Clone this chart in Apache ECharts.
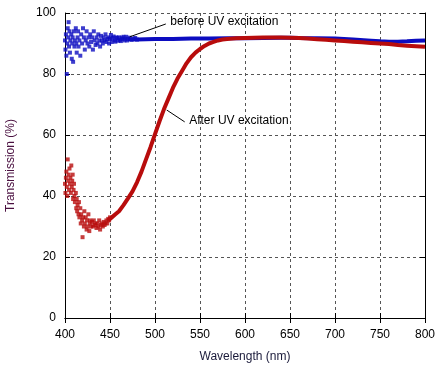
<!DOCTYPE html>
<html>
<head>
<meta charset="utf-8">
<script src="https://cdn.jsdelivr.net/npm/echarts@6/dist/echarts.min.js"></script>
<style>
html,body{margin:0;padding:0;background:#fff;}
#c{width:443px;height:374px;}
</style>
</head>
<body>
<div id="c"></div>
<script>
// X axis / Y axis ticks
const xTicks = [400, 450, 500, 550, 600, 650, 700, 750, 800];
const yTicks = [0, 20, 40, 60, 80, 100];

// Before UV excitation: noisy short-wavelength part (wavelength, %T)
const beforeNoisyWl = [400,400.5,401,401.5,402,402.5,403,403.5,404,404.5,405,405.5,406,407,407.5,408,408.5,409,410,410.5,411,412,412.5,413,414,414.5,415,416,417,418,419,420,421,422,423,424,425,426,427,428,429,430,431,432,433,434,435,436,437,438,439,440,441,442,443,444,445,446,447,448,449,450,451,452,453,454,455,456,457,458,459,460,461,462,463,464,465,466,467,468,469,470,472,474,476,478,480];
const beforeNoisyT  = [91,88,93,86,80,90,95,92,97,89,94,87,91,93,85,90,92,84,94,89,91,95,90,87,92,94,89,91,86,93,90,95,92,88,91,94,90,92,89,93,90.5,92,88,94,91,89.5,92,90,93,91,89,92.5,91,90,92,91,93,90.5,91.5,92,90,91.5,92.8,90.5,91.8,92.3,91,90.6,92,91.8,90.9,92,91.2,90.8,91.9,91.5,92.2,91,91.6,92.2,91,91.5,91.9,91.2,91.6,91.8,91.3];
// Before UV excitation: smooth part
const beforeWl = [470,480,490,500,520,540,560,580,600,620,640,650,660,680,700,720,740,750,760,770,780,790,800];
const beforeT  = [91.4,91.3,91.4,91.5,91.5,91.6,91.6,91.7,91.7,91.8,91.9,91.9,91.8,91.7,91.6,91.3,90.9,90.7,90.6,90.6,90.7,90.9,91.0];

// After UV excitation: noisy short-wavelength part
const afterNoisyWl = [400,400.5,401,401.5,402,402.5,403,403.5,404,404.5,405,405.5,406,406.5,407,407.5,408,408.5,409,409.5,410,410.5,411,412,412.5,413,413.5,414,415,415.5,416,417,417.5,418,419,419.5,420,421,421.5,422,423,424,424.5,425,426,427,427.5,428,429,430,431,432,433,434,435,436,437,438,439,440,441,442,443,444,445,446,447,448,449,450];
const afterNoisyT  = [44,41,46,48,43,40,52,45,47,42,49,44,46,41,50,43,45,47,39,42,44,40,38,41,36,39,35,37,34,38,33,36,31,34,32,26.5,33,30,35,31,33,29,32,30,34,28.5,31,32,30,31.5,30,32,30.5,31,29.5,31,30,32,29,30.5,31,30,31.5,30.5,31,32,31,32.5,32,33];
// After UV excitation: smooth part
const afterWl = [448,452,456,460,465,470,475,480,485,490,495,500,505,510,515,520,525,530,535,540,545,550,555,560,565,570,575,580,590,600,610,620,630,640,650,660,670,680,690,700,710,720,730,740,750,760,770,780,790,800];
const afterT  = [32,33,34,35,37,39.2,41.5,44.5,48,52,56,60.3,64.5,68.5,72,75.5,78.5,81,83.5,85.5,87,88.2,89.2,90,90.5,91,91.3,91.5,91.7,91.8,91.9,92,92,92,91.9,91.8,91.6,91.4,91.2,91.0,90.8,90.6,90.4,90.2,90.0,89.8,89.5,89.3,89.1,88.9];

const zip = (a, b) => a.map((v, i) => [v, b[i]]);
const BLUE = '#0c0cc0', RED = '#b80c0c';
const FONT = 'Liberation Sans';

const chart = echarts.init(document.getElementById('c'), null, {renderer: 'canvas'});

const axisLine = {show: true, lineStyle: {color: '#000', width: 1}};
const option = {
  backgroundColor: '#ffffff',
  animation: false,
  grid: {left: 65, right: 18, top: 13, bottom: 56, containLabel: false, outerBoundsMode: 'none'},
  xAxis: [{
    type: 'value', min: 400, max: 800, interval: 50,
    name: 'Wavelength (nm)', nameLocation: 'middle', nameGap: 33,
    nameTextStyle: {color: '#1a1a3a', fontFamily: FONT, fontSize: 12},
    axisLine, axisTick: {inside: true, length: 5, lineStyle: {color: '#000'}},
    axisLabel: {color: '#000', fontFamily: FONT, fontSize: 12, margin: 11},
    splitLine: {show: true, lineStyle: {color: '#555', type: [3, 3], width: 1}}
  }, {
    type: 'value', min: 400, max: 800, interval: 50, position: 'top',
    axisLine, axisTick: {inside: true, length: 5, lineStyle: {color: '#000'}},
    axisLabel: {show: false}, splitLine: {show: false}
  }],
  yAxis: [{
    type: 'value', min: 0, max: 100, interval: 20,
    name: 'Transmission (%)', nameLocation: 'middle', nameGap: 48,
    nameTextStyle: {color: '#4a1040', fontFamily: FONT, fontSize: 12},
    axisLine, axisTick: {inside: true, length: 5, lineStyle: {color: '#000'}},
    axisLabel: {color: '#000', fontFamily: FONT, fontSize: 12, margin: 9},
    splitLine: {show: true, lineStyle: {color: '#555', type: [3, 3], width: 1}}
  }, {
    type: 'value', min: 0, max: 100, interval: 20, position: 'right',
    axisLine, axisTick: {inside: true, length: 5, lineStyle: {color: '#000'}},
    axisLabel: {show: false}, splitLine: {show: false}
  }],
  series: [
    {type: 'line', data: zip(beforeWl, beforeT), showSymbol: false, lineStyle: {color: BLUE, width: 4}, z: 3},
    {type: 'scatter', data: zip(beforeNoisyWl, beforeNoisyT), symbol: 'rect', symbolSize: 4, itemStyle: {color: BLUE}, z: 3},
    {type: 'line', data: zip(afterWl, afterT), showSymbol: false, lineStyle: {color: RED, width: 4}, z: 4},
    {type: 'scatter', data: zip(afterNoisyWl, afterNoisyT), symbol: 'rect', symbolSize: 4, itemStyle: {color: RED}, z: 4}
  ]
};
chart.setOption(option);

// Annotations, placed in data space
const p = (x, y) => chart.convertToPixel({xAxisIndex: 0, yAxisIndex: 0}, [x, y]);
const b0 = p(512, 96.4), b1 = p(472, 92.2), bt = p(517, 97.1);
const a0 = p(533, 64.3), a1 = p(513, 68.2), at = p(538, 64.6);
chart.setOption({
  graphic: [
    {type: 'line', shape: {x1: b0[0], y1: b0[1], x2: b1[0], y2: b1[1]}, style: {stroke: '#000', lineWidth: 1}, z: 10},
    {type: 'text', x: bt[0], y: bt[1], style: {text: 'before UV excitation', fill: '#000', font: '12px "Liberation Sans"', verticalAlign: 'middle'}, z: 10},
    {type: 'line', shape: {x1: a0[0], y1: a0[1], x2: a1[0], y2: a1[1]}, style: {stroke: '#000', lineWidth: 1}, z: 10},
    {type: 'text', x: at[0], y: at[1], style: {text: 'After UV excitation', fill: '#000', font: '12px "Liberation Sans"', verticalAlign: 'middle'}, z: 10}
  ]
});
</script>
</body>
</html>
